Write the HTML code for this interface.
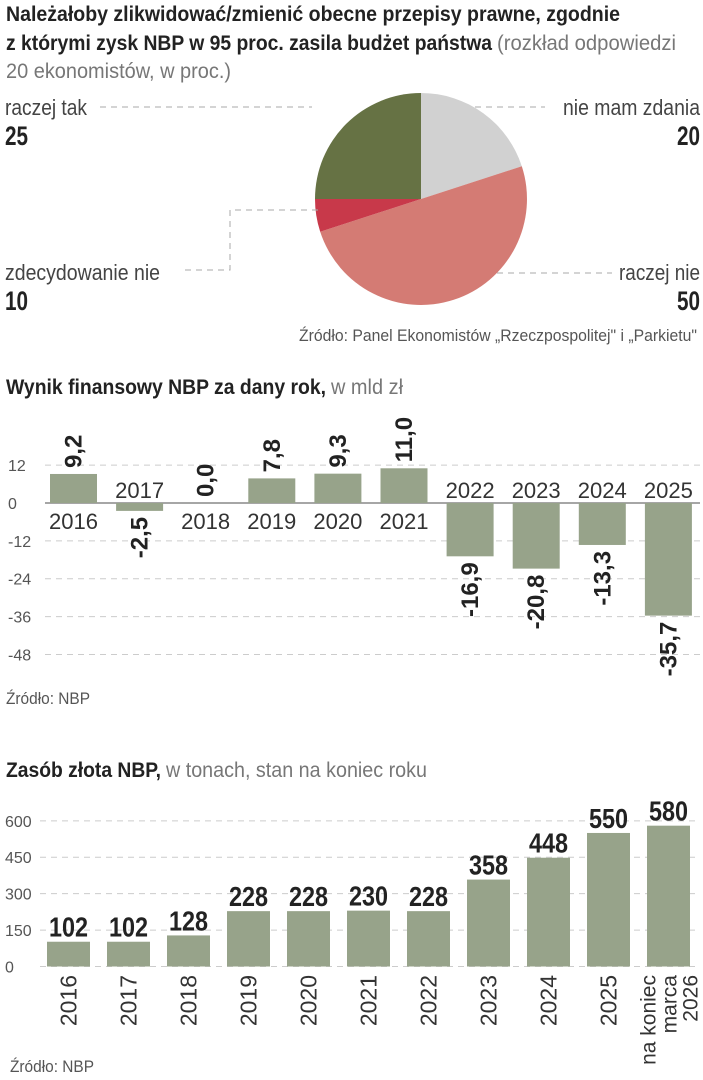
<!DOCTYPE html>
<html><head><meta charset="utf-8">
<style>
html,body{margin:0;padding:0;background:#fff;}
svg{display:block;font-family:"Liberation Sans",sans-serif;}
.b{font-weight:bold;fill:#222;}
.l{fill:#444;}
</style></head>
<body>
<svg id="root" width="703" height="1080" viewBox="0 0 703 1080">
  <g>
    <text x="6" y="21" font-size="21" class="b" textLength="614" lengthAdjust="spacingAndGlyphs">Należałoby zlikwidować/zmienić obecne przepisy prawne, zgodnie</text>
    <text x="6" y="50" font-size="21" class="b" textLength="486" lengthAdjust="spacingAndGlyphs">z którymi zysk NBP w 95 proc. zasila budżet państwa</text>
    <text x="497" y="50" font-size="21" fill="#777" textLength="179" lengthAdjust="spacingAndGlyphs">(rozkład odpowiedzi</text>
    <text x="6" y="78" font-size="21" fill="#777" textLength="225" lengthAdjust="spacingAndGlyphs">20 ekonomistów, w proc.)</text>
    <g id="pie"></g>
    <g stroke="#aaa" stroke-dasharray="6,5" fill="none">
      <line x1="100" y1="107" x2="312" y2="107"/>
      <line x1="475" y1="107" x2="545" y2="107"/>
      <polyline points="185,270 230,270 230,210 320,210"/>
      <line x1="497" y1="273" x2="612" y2="273"/>
    </g>
    <text x="5" y="115" font-size="22" class="l" textLength="82" lengthAdjust="spacingAndGlyphs">raczej tak</text>
    <text x="5" y="145" font-size="27" class="b" textLength="23" lengthAdjust="spacingAndGlyphs">25</text>
    <text x="563" y="115" font-size="22" class="l" textLength="137" lengthAdjust="spacingAndGlyphs">nie mam zdania</text>
    <text x="677" y="145" font-size="27" class="b" textLength="23" lengthAdjust="spacingAndGlyphs">20</text>
    <text x="5" y="280" font-size="22" class="l" textLength="155" lengthAdjust="spacingAndGlyphs">zdecydowanie nie</text>
    <text x="5" y="310" font-size="27" class="b" textLength="23" lengthAdjust="spacingAndGlyphs">10</text>
    <text x="619" y="280" font-size="22" class="l" textLength="81" lengthAdjust="spacingAndGlyphs">raczej nie</text>
    <text x="677" y="310" font-size="27" class="b" textLength="23" lengthAdjust="spacingAndGlyphs">50</text>
    <text x="299" y="341" font-size="17" fill="#555" textLength="398" lengthAdjust="spacingAndGlyphs">Źródło: Panel Ekonomistów „Rzeczpospolitej" i „Parkietu"</text>
  </g>

  <g>
    <text x="6" y="394" font-size="21" class="b" textLength="320" lengthAdjust="spacingAndGlyphs">Wynik finansowy NBP za dany rok,</text>
    <text x="331" y="394" font-size="21" fill="#777" textLength="72" lengthAdjust="spacingAndGlyphs">w mld zł</text>
    <g id="res"></g>
    <text x="6" y="704" font-size="17" fill="#555" textLength="84" lengthAdjust="spacingAndGlyphs">Źródło: NBP</text>
  </g>

  <g>
    <text x="6" y="777" font-size="21" class="b" textLength="155" lengthAdjust="spacingAndGlyphs">Zasób złota NBP,</text>
    <text x="166" y="777" font-size="21" fill="#777" textLength="261" lengthAdjust="spacingAndGlyphs">w tonach, stan na koniec roku</text>
    <g id="gold"></g>
    <text x="10" y="1072" font-size="17" fill="#555" textLength="84" lengthAdjust="spacingAndGlyphs">Źródło: NBP</text>
  </g>
</svg>
<script>
const NS="http://www.w3.org/2000/svg";
function mk(tag,attrs,parent,txt){const e=document.createElementNS(NS,tag);for(const k in attrs)e.setAttribute(k,attrs[k]);if(txt!==undefined)e.textContent=txt;parent.appendChild(e);return e;}

// ---- Pie data ----
const pieCategories=["nie mam zdania","raczej nie","zdecydowanie nie","raczej tak"];
const pieShares=[20,50,5,25];
const pieColors=["#d1d1d1","#d47b74","#c8394a","#667244"];
const pie=document.getElementById("pie");
(function(){
  const cx=421,cy=199,r=106;
  const total=pieShares.reduce((a,b)=>a+b,0);
  let a0=0;
  pieShares.forEach((v,i)=>{
    const a1=a0+v/total*2*Math.PI;
    const x0=cx+r*Math.sin(a0),y0=cy-r*Math.cos(a0),x1=cx+r*Math.sin(a1),y1=cy-r*Math.cos(a1);
    const large=(a1-a0)>Math.PI?1:0;
    const p=mk("path",{d:`M${cx},${cy}L${x0},${y0}A${r},${r} 0 ${large} 1 ${x1},${y1}Z`,fill:pieColors[i]},pie);
    
    
    a0=a1;
  });
})();

// ---- Result chart data ----
const resYears=["2016","2017","2018","2019","2020","2021","2022","2023","2024","2025"];
const resValues=[9.2,-2.5,0.0,7.8,9.3,11.0,-16.9,-20.8,-13.3,-35.7];
const resLabels=["9,2","-2,5","0,0","7,8","9,3","11,0","-16,9","-20,8","-13,3","-35,7"];
const resTicks=[12,0,-12,-24,-36,-48];
const res=document.getElementById("res");
(function(){
  const y=v=>503-v*3.155;
  const x=i=>50+i*66.1;
  const bw=47;
  resTicks.forEach(t=>{
    const ln=mk("line",{x1:45,x2:700,y1:y(t),y2:y(t),stroke:t===0?"#888":"#ccc","stroke-width":t===0?1.5:1,"stroke-dasharray":t===0?"none":"6,5"},res);
    
    
    const tx=mk("text",{x:8,y:y(t)+6,"font-size":16,fill:"#555"},res,String(t));
    
    
  });
  resValues.forEach((v,i)=>{
    const top=Math.min(y(v),y(0)),h=Math.abs(y(v)-y(0));
    const b=mk("rect",{x:x(i),y:top,width:bw,height:Math.max(h,0.01),fill:"#97a38a"},res);
    
    
    const cxm=x(i)+bw/2;
    const neg=v<0;
    const yr=mk("text",{x:cxm,y:neg?498:529,"font-size":22,fill:"#333","text-anchor":"middle",textLength:49,lengthAdjust:"spacingAndGlyphs"},res,resYears[i]);
    
    
    const ly=neg?y(v)+6:y(v)-6;
    const vl=mk("text",{x:0,y:0,"font-size":24,class:"b","text-anchor":neg?"end":"start",transform:`translate(${cxm+8},${ly}) rotate(-90)`},res,resLabels[i]);
    
    
  });
})();

// ---- Gold chart data ----
const goldCats=["2016","2017","2018","2019","2020","2021","2022","2023","2024","2025","na koniec|marca|2026"];
const goldValues=[102,102,128,228,228,230,228,358,448,550,580];
const goldLabels=["102","102","128","228","228","230","228","358","448","550","580"];
const goldTicks=[600,450,300,150,0];
const gold=document.getElementById("gold");
(function(){
  const y=v=>966.5-v*0.2428;
  const x=i=>47+i*60;
  const bw=43;
  goldTicks.forEach(t=>{
    const ln=mk("line",{x1:40,x2:700,y1:y(t),y2:y(t),stroke:"#ccc","stroke-dasharray":"6,5"},gold);
    
    
    const tx=mk("text",{x:5,y:y(t)+6,"font-size":16,fill:"#555"},gold,String(t));
    
    
  });
  goldValues.forEach((v,i)=>{
    const b=mk("rect",{x:x(i),y:y(v),width:bw,height:y(0)-y(v),fill:"#97a38a"},gold);
    
    
    const cxm=x(i)+bw/2;
    const vl=mk("text",{x:cxm,y:y(v)-5,"font-size":28,class:"b","text-anchor":"middle",textLength:39,lengthAdjust:"spacingAndGlyphs"},gold,goldLabels[i]);
    
    
    const lines=goldCats[i].split("|");
    const fs=lines.length>1?21:23;
    lines.forEach((s,k)=>{
      const off=(k-(lines.length-1)/2)*21;
      const t=mk("text",{x:0,y:0,"font-size":fs,fill:"#333","text-anchor":"end",transform:`translate(${cxm+8+off},${975}) rotate(-90)`},gold,s);
      
      
    });
  });
})();
</script>
</body></html>
